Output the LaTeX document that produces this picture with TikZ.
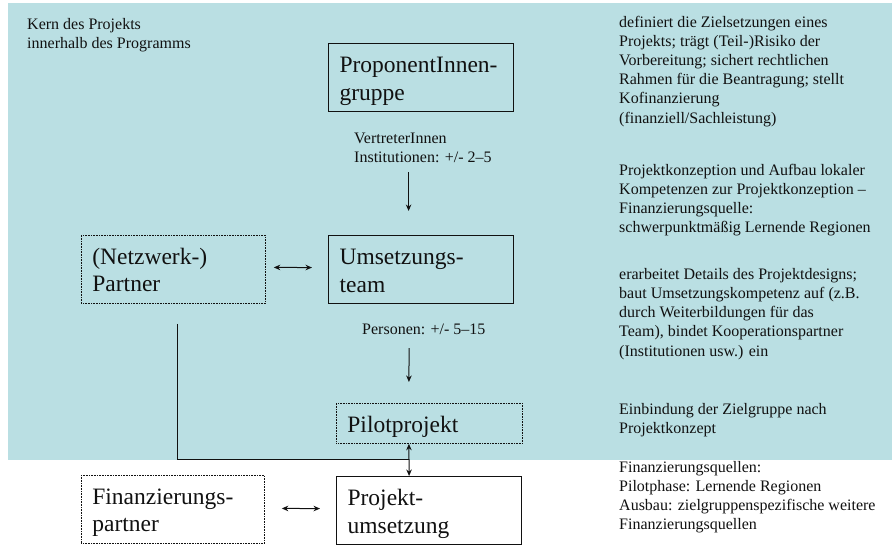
\documentclass[tikz,border=0pt]{standalone}
\usepackage{fontspec}
\setmainfont{Liberation Serif}
\usetikzlibrary{arrows.meta}

\definecolor{panel}{RGB}{186,223,227}
\definecolor{ink}{RGB}{17,17,17}

\newcommand\bigfont{\fontsize{23.5}{27.5}\selectfont}
\newcommand\smallfont{\fontsize{16}{19.2}\selectfont}
\newcommand\topstrut{\rule{0pt}{12pt}}

% framed text: fixed size, lines start 11pt from the left, first baseline 29pt below the top
\newcommand\twolinebox[4]{%
  \vbox to #2{\offinterlineskip\kern29pt\hbox to #1{\kern11pt\smash{#3}\hss}\kern27.5pt\hbox to #1{\kern11pt\smash{#4}\hss}\vss}}
\newcommand\onelinebox[3]{%
  \vbox to #2{\offinterlineskip\kern29pt\hbox to #1{\kern11pt\smash{#3}\hss}\vss}}

\begin{document}
\begin{tikzpicture}[x=1pt,y=-1pt,
  frame/.style={inner sep=0pt, anchor=north west, font=\bigfont, text=ink},
  solidframe/.style={frame, draw=ink, line width=1.2pt},
  dotframe/.style={frame, draw=ink, line width=0.8pt, dash pattern=on 0.8pt off 0.8pt},
  note/.style={inner sep=0pt, anchor=north west, align=left, font=\smallfont, text=ink},
  link/.style={draw=ink, line width=1pt},
  arr/.style={link, -{Stealth[length=6.5pt,width=5.5pt]}},
  darr/.style={link, {Stealth[length=6.5pt,width=5.5pt]}-{Stealth[length=6.5pt,width=5.5pt]}}]

\useasboundingbox (0,0) rectangle (892,548);
\fill[white] (0,0) rectangle (892,548);
\fill[panel] (8,3) rectangle (892,460);

% boxes
\node[solidframe] (prop)  at (328,43)  {\twolinebox{185pt}{68pt}{ProponentInnen-}{gruppe}};
\node[solidframe] (umt)   at (328,235) {\twolinebox{185pt}{68pt}{Umsetzungs-}{team}};
\node[dotframe]   (netz)  at (81,235)  {\twolinebox{184pt}{68pt}{(Netzwerk-)}{Partner}};
\node[dotframe]   (pilot) at (336,403) {\onelinebox{186pt}{40pt}{Pilotprojekt}};
\node[solidframe] (proj)  at (336,476) {\twolinebox{185pt}{68pt}{Projekt-}{umsetzung}};
\node[dotframe]   (fin)   at (81,475)  {\twolinebox{183pt}{68pt}{Finanzierungs-}{partner}};

% captions in the left and middle
\node[note] (kern) at (27,17)  {\topstrut Kern des Projekts\\innerhalb des Programms};
\node[note] (vert) at (354,131) {\topstrut VertreterInnen\\Institutionen: +/- 2–5};
\node[note] (pers) at (362,322) {\topstrut Personen: +/- 5–15};

% explanations on the right
\node[note] (r1) at (619,15) {\topstrut definiert die Zielsetzungen eines\\Projekts; trägt (Teil-)Risiko der\\Vorbereitung; sichert rechtlichen\\Rahmen für die Beantragung; stellt\\Kofinanzierung\\(finanziell/Sachleistung)};
\node[note] (r2) at (619,163) {\topstrut Projektkonzeption und Aufbau lokaler\\Kompetenzen zur Projektkonzeption –\\Finanzierungsquelle:\\schwerpunktmäßig Lernende Regionen};
\node[note] (r3) at (619,267) {\topstrut erarbeitet Details des Projektdesigns;\\baut Umsetzungskompetenz auf (z.B.\\durch Weiterbildungen für das\\Team), bindet Kooperationspartner\\(Institutionen usw.) ein};
\node[note] (r4) at (619,402) {\topstrut Einbindung der Zielgruppe nach\\Projektkonzept};
\node[note] (r5) at (619,460) {\topstrut Finanzierungsquellen:\\Pilotphase: Lernende Regionen\\Ausbau: zielgruppenspezifische weitere\\Finanzierungsquellen};

% connectors
\draw[arr] ([xshift=-12.5pt,yshift=-60pt]prop.south) -- ([xshift=-12.5pt,yshift=24pt]umt.north);
\draw[darr, shorten <=8pt, shorten >=16pt] ([yshift=2pt]netz.east) -- ([yshift=2pt]umt.west);
\draw[arr] ([xshift=-12pt,yshift=-44pt]umt.south) -- ([xshift=-20.5pt,yshift=21pt]pilot.north);
\draw[darr] ([xshift=-20.5pt]pilot.south) -- ([xshift=-20pt]proj.north);
\coordinate (join) at ([xshift=-20pt,yshift=17pt]proj.north);
\draw[link] ([xshift=4pt,yshift=-20pt]netz.south) |- (join);
\draw[darr, shorten <=17pt, shorten >=16pt] ([yshift=1pt]fin.east) -- ([yshift=2pt]proj.west);

\end{tikzpicture}
\end{document}
